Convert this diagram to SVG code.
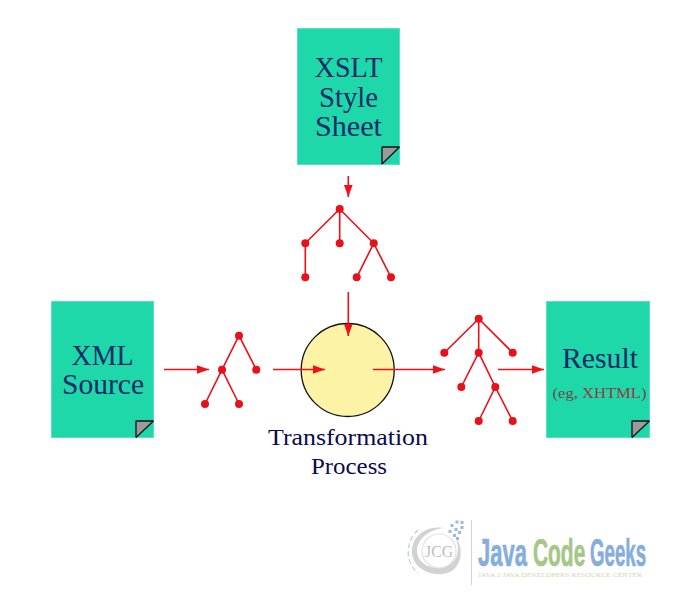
<svg xmlns="http://www.w3.org/2000/svg" width="673" height="615" viewBox="0 0 673 615">
<style>
.doc{fill:#1fd8aa;stroke:#55e2c4;stroke-width:1}
.fold{fill:#9a9a9a;stroke:#111;stroke-width:1.300;stroke-linejoin:bevel}
.t{font-family:"Liberation Serif","Times New Roman",serif;text-anchor:middle;fill:#0a2a68}
.big{font-size:28.5px}
.lab{font-size:23.5px;fill:#0a0a50}
.small{font-size:15.5px;fill:#6b4a48}
.edge{stroke:#e8101a;stroke-width:1.6;fill:none}
.dot{fill:#e8101a}
.arr{stroke:#f01018;stroke-width:1.6;fill:none;marker-end:url(#head)}
.jcg{font-family:"Liberation Sans",Arial,sans-serif;font-weight:bold;font-size:22px;stroke-width:.4px}
</style>
<defs>
<marker id="head" markerUnits="userSpaceOnUse" markerWidth="13" markerHeight="10" refX="12.500" refY="4.500" orient="auto"><path d="M0 0L12.500 4.500L0 9Z" fill="#f01018"/></marker>
</defs>
<rect width="673" height="615" fill="#fff"/>

<g id="node-xslt">
<rect class="doc" x="297.500" y="28.500" width="102" height="136"/>
<path class="fold" d="M382 164V147H399.500Z"/>
<text class="t big" x="348.500" y="76.500" textLength="68" lengthAdjust="spacingAndGlyphs">XSLT</text>
<text class="t big" x="348.500" y="106.500" textLength="59" lengthAdjust="spacingAndGlyphs">Style</text>
<text class="t big" x="348.500" y="135.500" textLength="67" lengthAdjust="spacingAndGlyphs">Sheet</text>
</g>
<g id="node-xml">
<rect class="doc" x="51.500" y="301.500" width="102" height="136"/>
<path class="fold" d="M136 437.500V421H153.500Z"/>
<text class="t big" x="102.500" y="365" textLength="62" lengthAdjust="spacingAndGlyphs">XML</text>
<text class="t big" x="103" y="394" textLength="82" lengthAdjust="spacingAndGlyphs">Source</text>
</g>
<g id="node-result">
<rect class="doc" x="546.500" y="301.500" width="103" height="136"/>
<path class="fold" d="M632 437.500V421H649.500Z"/>
<text class="t big" x="600" y="368" textLength="76" lengthAdjust="spacingAndGlyphs">Result</text>
<text class="t small" x="599.500" y="398" textLength="94" lengthAdjust="spacingAndGlyphs">(eg, <tspan fill="#963a38">XHTML</tspan>)</text>
</g>
<g id="node-process">
<circle cx="347.700" cy="370" r="46.500" fill="#fdf3a6" stroke="#111" stroke-width="1.300"/>
<text class="t lab" x="348" y="445" textLength="160" lengthAdjust="spacingAndGlyphs">Transformation</text>
<text class="t lab" x="349" y="474" textLength="76" lengthAdjust="spacingAndGlyphs">Process</text>
</g>

<g id="tree-style">
<path class="edge" d="M339.700 209L305.300 243.300V277.300M339.700 209V243.300M339.700 209L373.700 243.300L356.700 277.300M373.700 243.300L391 277.300"/>
<g class="dot"><circle cx="339.700" cy="209" r="4"/><circle cx="305.300" cy="243.300" r="4"/><circle cx="339.700" cy="243.300" r="4"/><circle cx="373.700" cy="243.300" r="4"/><circle cx="305.300" cy="277.300" r="4"/><circle cx="356.700" cy="277.300" r="4"/><circle cx="391" cy="277.300" r="4"/></g>
</g>
<g id="tree-source">
<path class="edge" d="M239 335.700L222 369.700L205 404M222 369.700L239 404M239 335.700L256.300 369.700"/>
<g class="dot"><circle cx="239" cy="335.700" r="4"/><circle cx="222" cy="369.700" r="4"/><circle cx="256.300" cy="369.700" r="4"/><circle cx="205" cy="404" r="4"/><circle cx="239" cy="404" r="4"/></g>
</g>
<g id="tree-result">
<path class="edge" d="M478.700 318.700L444.300 352.700M478.700 318.700V352.700M478.700 318.700L512.700 352.700M478.700 352.700L461.300 387M478.700 352.700L495.300 387L478.700 421M495.300 387L512.700 421"/>
<g class="dot"><circle cx="478.700" cy="318.700" r="4"/><circle cx="444.300" cy="352.700" r="4"/><circle cx="478.700" cy="352.700" r="4"/><circle cx="512.700" cy="352.700" r="4"/><circle cx="461.300" cy="387" r="4"/><circle cx="495.300" cy="387" r="4"/><circle cx="478.700" cy="421" r="4"/><circle cx="512.700" cy="421" r="4"/></g>
</g>

<g id="connectors">
<path class="arr" d="M348.300 176V197"/>
<path class="arr" d="M348.300 292V336"/>
<path class="arr" d="M164 369.500H209"/>
<path class="arr" d="M273 369.500H325"/>
<path class="arr" d="M373 369.500H445"/>
<path class="arr" d="M498 369.500H544"/>
</g>

<g id="logo">
<path d="M418 530C406 540 404 562 418 573" fill="none" stroke="#c4cedc" stroke-width="1.300" stroke-dasharray="5 3"/>
<path d="M443 528C425 525 411 538 412 553C413 568 432 579 450 572C462 566 464 548 456 538C461 552 456 564 444 567C430 571 417 562 417 551C417 539 429 530 443 528Z" fill="#d2d2d2"/>
<circle cx="439" cy="551" r="17" fill="none" stroke="#e2e2e2" stroke-width="1.200"/>
<text x="439" y="557" font-family="Liberation Serif,serif" font-size="16" fill="#bdbdbd" text-anchor="middle" textLength="28" lengthAdjust="spacingAndGlyphs">JCG</text>
<g fill="#9dbad6"><rect x="460.500" y="521" width="3" height="3"/><rect x="455.500" y="520.500" width="3" height="3"/><rect x="450.500" y="524" width="3" height="3"/><rect x="460.500" y="526" width="3" height="3"/><rect x="454.500" y="528" width="3" height="3"/><rect x="458" y="531" width="3" height="3"/><rect x="448.500" y="530" width="3" height="3"/><rect x="453" y="534" width="3" height="3"/><rect x="456" y="537" width="3" height="3"/></g>
<line x1="471.500" y1="520" x2="471.500" y2="585" stroke="#d4d4d4" stroke-width="1"/>
<text class="jcg" transform="translate(478 565.500) scale(1 1.770)" fill="#86aedc" stroke="#86aedc">Java</text>
<text class="jcg" transform="translate(533 565.500) scale(.95 1.770)" fill="#a6c68a" stroke="#a6c68a">Code</text>
<text class="jcg" transform="translate(590 565.500) scale(.85 1.770)" fill="#86aedc" stroke="#86aedc">Geeks</text>
<text x="478" y="576.500" font-family="Liberation Serif,serif" font-size="7" fill="#ccd8b4" textLength="164" lengthAdjust="spacingAndGlyphs">JAVA 2 JAVA DEVELOPERS RESOURCE CENTER</text>
</g>
</svg>
